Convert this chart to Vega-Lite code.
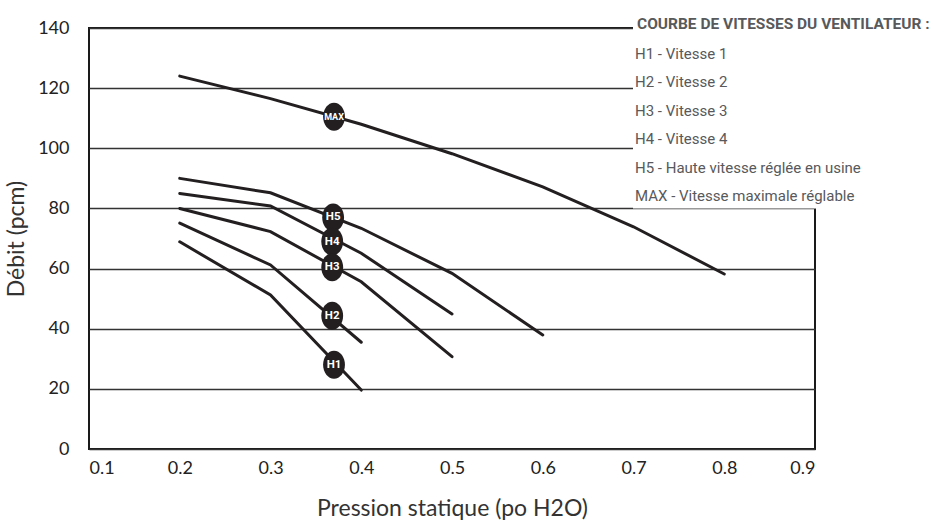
{
  "$schema": "https://vega.github.io/schema/vega-lite/v6.json",
  "width": 726,
  "height": 421,
  "autosize": {"type": "none"},
  "padding": {"left": 89, "top": 28, "right": 114, "bottom": 82},
  "background": "white",
  "config": {
    "view": {"stroke": "#1a1a1a", "strokeWidth": 2},
    "font": "Lato"
  },
  "datasets": {
    "courbes": [
      {"courbe": "H1 - Vitesse 1", "pression": 0.2, "debit": 68.9},
      {"courbe": "H1 - Vitesse 1", "pression": 0.3, "debit": 51.2},
      {"courbe": "H1 - Vitesse 1", "pression": 0.4, "debit": 19.6},
      {"courbe": "H2 - Vitesse 2", "pression": 0.2, "debit": 75.1},
      {"courbe": "H2 - Vitesse 2", "pression": 0.3, "debit": 61.2},
      {"courbe": "H2 - Vitesse 2", "pression": 0.4, "debit": 35.5},
      {"courbe": "H3 - Vitesse 3", "pression": 0.2, "debit": 80.0},
      {"courbe": "H3 - Vitesse 3", "pression": 0.3, "debit": 72.3},
      {"courbe": "H3 - Vitesse 3", "pression": 0.4, "debit": 55.6},
      {"courbe": "H3 - Vitesse 3", "pression": 0.5, "debit": 30.7},
      {"courbe": "H4 - Vitesse 4", "pression": 0.2, "debit": 85.0},
      {"courbe": "H4 - Vitesse 4", "pression": 0.3, "debit": 80.8},
      {"courbe": "H4 - Vitesse 4", "pression": 0.4, "debit": 65.1},
      {"courbe": "H4 - Vitesse 4", "pression": 0.5, "debit": 44.9},
      {"courbe": "H5 - Haute vitesse réglée en usine", "pression": 0.2, "debit": 90.0},
      {"courbe": "H5 - Haute vitesse réglée en usine", "pression": 0.3, "debit": 85.2},
      {"courbe": "H5 - Haute vitesse réglée en usine", "pression": 0.4, "debit": 73.4},
      {"courbe": "H5 - Haute vitesse réglée en usine", "pression": 0.5, "debit": 58.4},
      {"courbe": "H5 - Haute vitesse réglée en usine", "pression": 0.6, "debit": 37.9},
      {"courbe": "MAX - Vitesse maximale réglable", "pression": 0.2, "debit": 124.0},
      {"courbe": "MAX - Vitesse maximale réglable", "pression": 0.3, "debit": 116.5},
      {"courbe": "MAX - Vitesse maximale réglable", "pression": 0.4, "debit": 108.0},
      {"courbe": "MAX - Vitesse maximale réglable", "pression": 0.5, "debit": 98.2},
      {"courbe": "MAX - Vitesse maximale réglable", "pression": 0.6, "debit": 87.2},
      {"courbe": "MAX - Vitesse maximale réglable", "pression": 0.7, "debit": 73.9},
      {"courbe": "MAX - Vitesse maximale réglable", "pression": 0.8, "debit": 58.2}
    ],
    "reperes": [
      {"tag": "MAX", "pression": 0.37, "debit": 110.5},
      {"tag": "H5", "pression": 0.369, "debit": 77.0},
      {"tag": "H4", "pression": 0.368, "debit": 69.0},
      {"tag": "H3", "pression": 0.368, "debit": 60.4},
      {"tag": "H2", "pression": 0.368, "debit": 44.3},
      {"tag": "H1", "pression": 0.37, "debit": 28.0}
    ]
  },
  "layer": [
    {
      "data": {"name": "courbes"},
      "mark": {"type": "line", "strokeWidth": 3, "strokeCap": "round"},
      "encoding": {
        "x": {
          "field": "pression", "type": "quantitative",
          "scale": {"domain": [0.1, 0.9], "nice": false, "zero": false},
          "axis": {
            "values": [0.1, 0.2, 0.3, 0.4, 0.5, 0.6, 0.7, 0.8, 0.9],
            "format": ".1f", "grid": false, "ticks": false, "domain": false,
            "labelPadding": 10, "labelFontSize": 18, "labelColor": "#222",
            "labelFont": "Lato",
            "title": "Pression statique (po H2O)", "titleFontSize": 23,
            "titleFontWeight": "normal", "titleColor": "#333", "titlePadding": 20,
            "titleFont": "Lato"
          }
        },
        "y": {
          "field": "debit", "type": "quantitative",
          "scale": {"domain": [0, 140], "nice": false},
          "axis": {
            "values": [0, 20, 40, 60, 80, 100, 120, 140],
            "grid": true, "gridColor": "#333", "gridWidth": 1.5, "gridOpacity": 1,
            "ticks": false, "domain": false,
            "labelPadding": 20, "labelFontSize": 18, "labelColor": "#222",
            "labelFont": "Lato",
            "title": "Débit (pcm)", "titleFontSize": 23, "titleFontWeight": "normal",
            "titleColor": "#333", "titlePadding": 9, "titleFont": "Lato"
          }
        },
        "stroke": {
          "field": "courbe", "type": "nominal",
          "scale": {
            "domain": ["H1 - Vitesse 1", "H2 - Vitesse 2", "H3 - Vitesse 3", "H4 - Vitesse 4", "H5 - Haute vitesse réglée en usine", "MAX - Vitesse maximale réglable"],
            "range": ["#231f20", "#231f20", "#231f20", "#231f20", "#231f20", "#231f20"]
          },
          "legend": {
            "orient": "none", "legendX": 544, "legendY": -15.5,
            "direction": "vertical", "columns": 1,
            "padding": 4, "fillColor": "white", "strokeColor": null,
            "title": "COURBE DE VITESSES DU VENTILATEUR :",
            "titleFont": "Roboto",
            "titleFontSize": 15.5, "titleFontWeight": "bold", "titleColor": "#58595b",
            "titlePadding": 14, "titleLimit": 400, "titleAnchor": "start",
            "labelFont": "Roboto",
            "labelFontSize": 15, "labelColor": "#58595b", "labelLimit": 400,
            "labelOffset": -17, "rowPadding": 12.5,
            "symbolType": "stroke", "symbolSize": 0, "symbolStrokeWidth": 0, "symbolOpacity": 0
          }
        },
        "order": {"field": "pression"}
      }
    },
    {
      "data": {"name": "reperes"},
      "mark": {
        "type": "point",
        "shape": "M -0.78 0 A 0.78 1 0 1 1 0.78 0 A 0.78 1 0 1 1 -0.78 0 Z",
        "filled": true, "fill": "#231f20", "opacity": 1, "size": 784, "strokeWidth": 0
      },
      "encoding": {
        "x": {"field": "pression", "type": "quantitative"},
        "y": {"field": "debit", "type": "quantitative"}
      }
    },
    {
      "data": {"name": "reperes"},
      "mark": {
        "type": "text", "fill": "white", "fontWeight": "bold",
        "font": "Roboto",
        "align": "center", "baseline": "middle"
      },
      "encoding": {
        "x": {"field": "pression", "type": "quantitative"},
        "y": {"field": "debit", "type": "quantitative"},
        "text": {"field": "tag", "type": "nominal"},
        "size": {"condition": {"test": "datum.tag === 'MAX'", "value": 9}, "value": 11.5}
      }
    }
  ]
}
